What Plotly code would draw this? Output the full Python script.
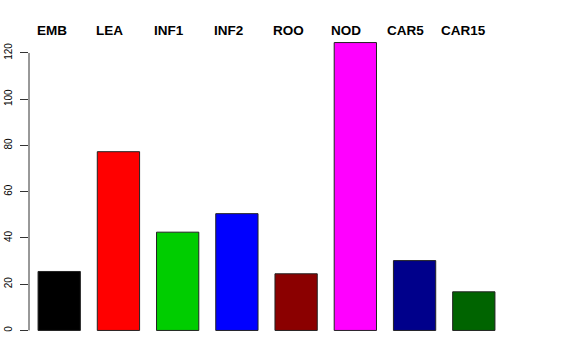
import plotly.graph_objects as go

categories = ["EMB", "LEA", "INF1", "INF2", "ROO", "NOD", "CAR5", "CAR15"]
values = [25.5, 77.3, 42.5, 50.5, 24.5, 124.5, 30.2, 16.7]
colors = ["#000000", "#FF0000", "#00CD00", "#0000FF", "#8B0000", "#FF00FF", "#00008B", "#006400"]
y_ticks = [0, 20, 40, 60, 80, 100, 120]

# pixel offsets of the top labels relative to each bar's left edge
label_shift = [-3, -3.4, -4.4, -3.4, -4.2, -5, -8, -13.4]

fig = go.Figure()
fig.add_trace(go.Bar(
    x=categories, y=values,
    marker=dict(color=colors, line=dict(color="#222222", width=1)),
    width=0.714,
    hoverinfo="x+y",
))

bar_half = 0.714 / 2
for i, (cat, sh) in enumerate(zip(categories, label_shift)):
    fig.add_annotation(
        x=i - bar_half, xref="x", y=1, yref="paper",
        text="<b>%s</b>" % cat, showarrow=False,
        xanchor="left", yanchor="middle", xshift=sh, yshift=1,
        font=dict(family="Liberation Sans, Arial, sans-serif", size=13.5, color="black"),
    )

# y axis line spanning only the tick range, like R's axis()
fig.add_shape(type="line", xref="paper", x0=0, x1=0, yref="y",
              y0=min(y_ticks), y1=max(y_ticks), line=dict(color="#333333", width=1))

fig.update_layout(
    width=576, height=360,
    margin=dict(l=29, r=56, t=31, b=17.5, autoexpand=False),
    paper_bgcolor="white", plot_bgcolor="white",
    showlegend=False,
    font=dict(family="Liberation Sans, Arial, sans-serif", color="black"),
)
fig.update_xaxes(range=[-0.51, 7.78], showticklabels=False, ticks="",
                 showgrid=False, zeroline=False, showline=False, automargin=False)
fig.update_yaxes(range=[-5, 129.5], tickvals=y_ticks, ticks="outside", ticklen=8,
                 tickcolor="#333333", tickwidth=1, tickangle=-90,
                 tickfont=dict(size=10, color="black"), ticklabelstandoff=4,
                 showgrid=False, zeroline=False, showline=False, automargin=False)

# remove the browser's default 8px body margin so the figure fills the window
fig.write_html("out.html", config={"displayModeBar": False},
               post_script="document.body.style.margin='0';document.body.style.overflow='hidden';")
